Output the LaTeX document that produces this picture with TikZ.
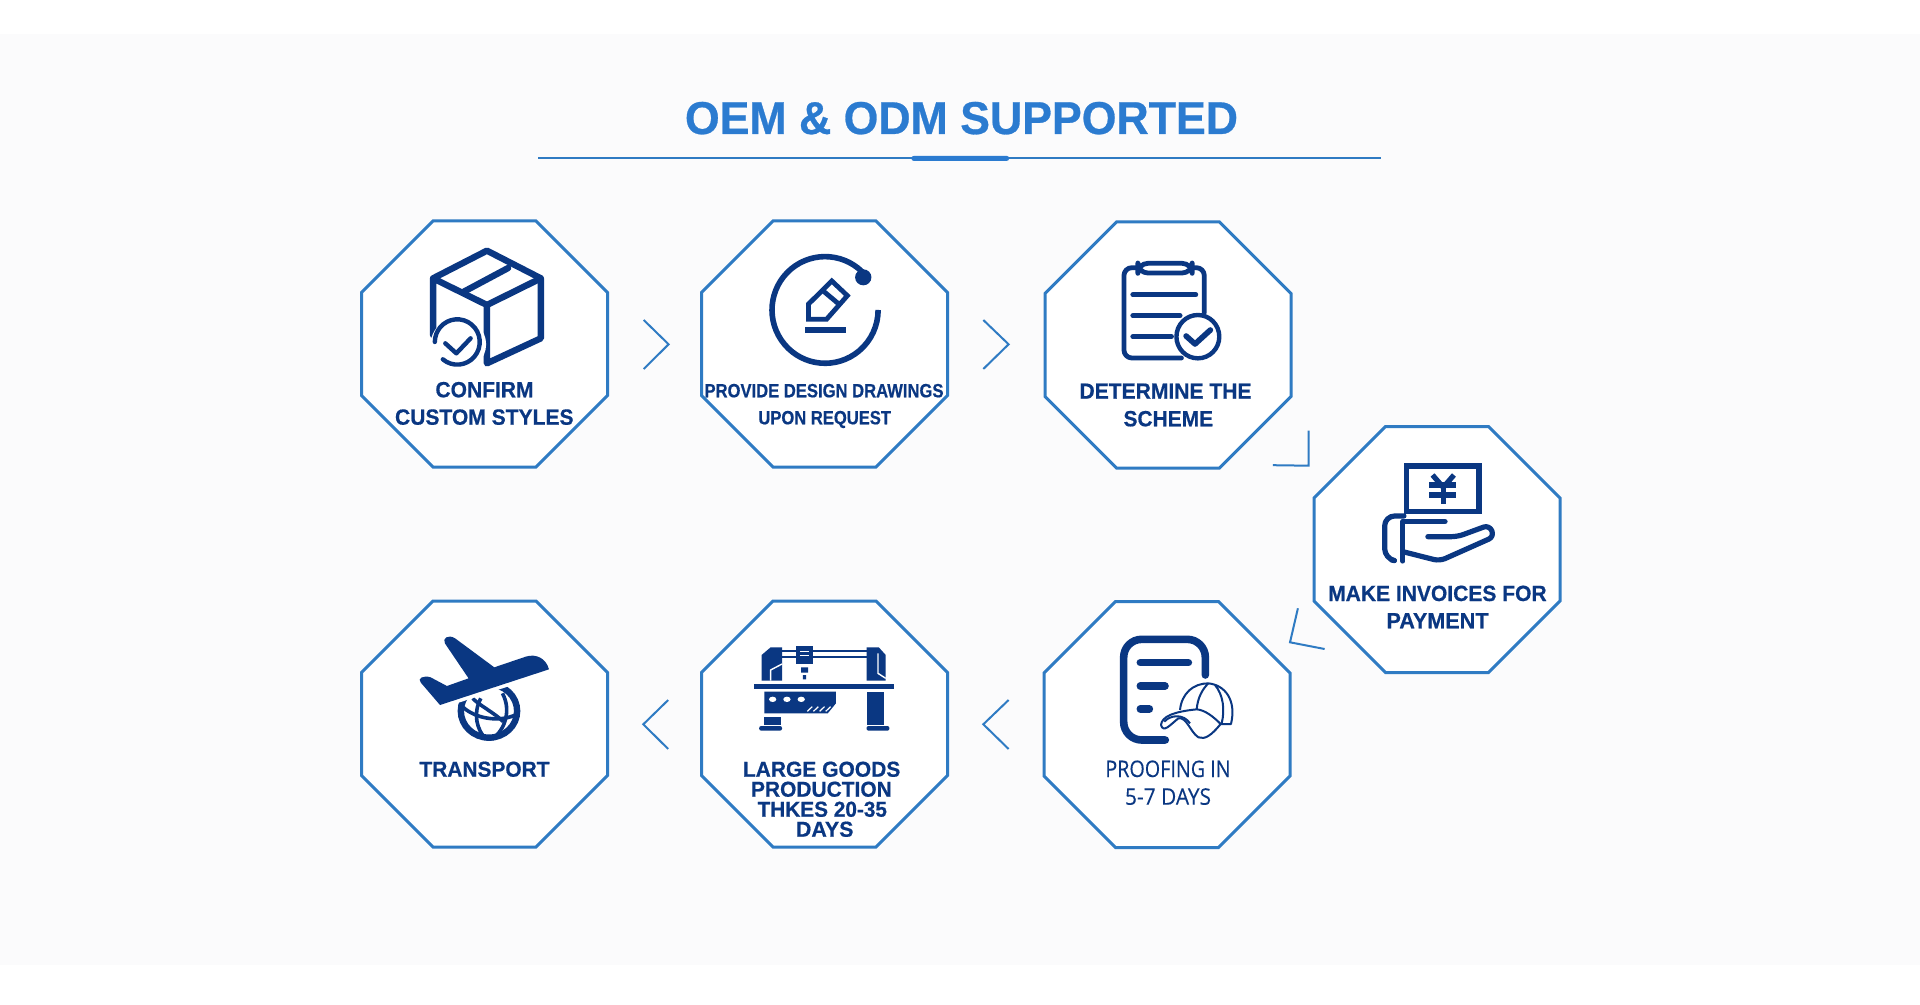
\documentclass[tikz,border=0pt]{standalone}
\usepackage{fontspec}
\usepackage{graphicx}
\setmainfont{Liberation Sans}[BoldFeatures={FakeBold=0.6}]
\newfontfamily\opensans{Open Sans}[FakeBold=0.25]
\definecolor{pagebg}{HTML}{FBFBFC}
\definecolor{edgeblue}{HTML}{2F7BC3}
\definecolor{titleblue}{HTML}{2B7BD0}
\definecolor{navy}{HTML}{0A3782}
\newdimen\pxunit \pxunit=.5pt
\tikzset{
  octa/.style={draw=edgeblue,fill=white,line width=1.5pt,line join=miter},
  chev/.style={draw=edgeblue,line width=1pt},
  ink/.style={draw=navy,line width=#1,line cap=round,line join=round},
  ink/.default=2.4pt,
  txt/.style={anchor=base,inner sep=0pt,outer sep=0pt,text=navy},
}
\newcommand\octagon[2]{%
  \path[octa] (#1-51.5,#2-123) -- (#1+51.5,#2-123) -- (#1+123,#2-51.5) -- (#1+123,#2+51.5)
   -- (#1+51.5,#2+123) -- (#1-51.5,#2+123) -- (#1-123,#2+51.5) -- (#1-123,#2-51.5) -- cycle;}
\newcommand\lbl[6]{\node[txt] (#1) at (#2,#3) {\resizebox{#4\pxunit}{\height}{\fontsize{#5}{#5}\selectfont\bfseries #6}};}
\newcommand\lblr[6]{\node[txt] (#1) at (#2,#3) {\resizebox{#4\pxunit}{\height}{\fontsize{#5}{#5}\selectfont\opensans #6}};}
\newcommand\planeoutline{(512,238) .. controls (505,205) and (480,190) .. (455,200) -- (378,232) -- (282,145) .. controls (265,132) and (250,145) .. (257,160) -- (315,265) -- (262,288) -- (222,262) .. controls (205,255) and (188,265) .. (198,278) -- (245,345) -- cycle}
\begin{document}
\begin{tikzpicture}[x=.5pt,y=-.5pt]
\useasboundingbox (0,0) rectangle (1920,1005);
\fill[white] (0,0) rectangle (1920,1005);
\fill[pagebg] (0,34) rectangle (1920,965);

% title
\node[inner sep=0pt,anchor=base,text=titleblue] (title) at (961.5,134)
  {\resizebox{553\pxunit}{\height}{\fontsize{23}{24}\selectfont\bfseries OEM \& ODM SUPPORTED}};
\draw[edgeblue,line width=.85pt] (538,158.3) -- (1381,158.3);
\fill[titleblue,rounded corners=1pt] (911.5,156) rectangle (1009,160.8);

% octagons
\octagon{484.5}{344}
\octagon{824.5}{344}
\octagon{1168}{345}
\octagon{1437}{549.5}
\octagon{1167}{724.5}
\octagon{824.5}{724}
\octagon{484.5}{724}

% chevrons
\draw[chev] (643.7,320) -- (668.6,344.3) -- (643.7,369);
\draw[chev] (983.3,320) -- (1008.6,344.3) -- (983.3,369);
\draw[chev] (1308.6,430.7) -- (1308.6,465.7) -- (1272.9,465.2);
\draw[chev] (1297.9,608.3) -- (1290,642.3) -- (1324.6,649);
\draw[chev] (1008.6,700) -- (983.3,724.3) -- (1008.6,749);
\draw[chev] (668.2,700) -- (643.3,724.3) -- (668.2,749);

% labels
\lbl{a1}{484.5}{397.3}{98}{11}{CONFIRM}
\lbl{a2}{484.3}{424.7}{178.5}{11}{CUSTOM STYLES}
\lbl{b1}{824}{397.3}{239}{9.6}{PROVIDE DESIGN DRAWINGS}
\lbl{b2}{824.7}{424.3}{132.6}{9.6}{UPON REQUEST}
\lbl{c1}{1165.5}{398.7}{172}{11}{DETERMINE THE}
\lbl{c2}{1168.3}{426.3}{89.6}{11}{SCHEME}
\lbl{d1}{1437.4}{601}{218.5}{11}{MAKE INVOICES FOR}
\lbl{d2}{1437.5}{628.3}{102}{11}{PAYMENT}
\lblr{e1}{1168}{777}{125.3}{11.4}{PROOFING IN}
\lblr{e2}{1168}{804.7}{86}{11.4}{5-7 DAYS}
\lbl{f1}{821.6}{776.7}{157.5}{10.8}{LARGE GOODS}
\lbl{f2}{821.4}{796.7}{140.8}{10.8}{PRODUCTION}
\lbl{f3}{822.3}{816.7}{129.4}{10.8}{THKES 20-35}
\lbl{f4}{824.7}{836.7}{57.5}{10.8}{DAYS}
\lbl{g1}{484.5}{776.7}{130}{10.8}{TRANSPORT}

% ---- icon 1: box
\begin{scope}[shift={(340,200)},xscale=.40816,yscale=.33333]
  \draw[ink=3.2pt] (228,405) -- (228,235) -- (360,152) -- (492,235) -- (492,415) -- (360,490) -- (360,315) -- (228,235);
  \draw[ink=3.2pt] (360,315) -- (492,235);
  \draw[ink=3.2pt] (302,276) -- (412,204);
  \fill[white] (290,433) ellipse [x radius=68,y radius=80];
  \draw[ink=2.2pt] (252,478) arc [start angle=130,end angle=-180,x radius=55,y radius=68];
  \draw[ink=2.2pt] (258,430) -- (285,460) -- (320,415);
\end{scope}

% ---- icon 2: pencil in ring
\begin{scope}[shift={(340,200)},xscale=.40816,yscale=.33333]
  \draw[ink=2.8pt,line cap=butt] (1288,227) arc [start angle=-40,end angle=-360,x radius=130,y radius=160];
  \fill[navy] (1282,232) ellipse [x radius=20,y radius=24];
  \draw[ink=2.4pt,line join=miter] (1148,358) -- (1148,312) -- (1205,243) -- (1243,287) -- (1192,358) -- cycle;
  \draw[ink=2.4pt,line cap=butt] (1183,272) -- (1222,312);
  \fill[navy] (1140,382) rectangle (1240,400);
\end{scope}

% ---- icon 3: clipboard
\begin{scope}[shift={(1020,200)},xscale=.35714,yscale=.33333]
  \draw[ink=2.4pt,rounded corners=4pt] (452,474) -- (291,474) -- (291,203) -- (516,203) -- (516,338);
  \draw[ink=2.4pt,fill=white,rounded corners=5pt] (330,190) rectangle (482,219);
  \draw[ink=2.5pt] (316,284) -- (492,284);
  \draw[ink=2.5pt] (316,347) -- (448,347);
  \draw[ink=2.5pt] (316,410) -- (424,410);
  \draw[ink=2.2pt,fill=white] (498,410) ellipse [x radius=60,y radius=65];
  \draw[ink=2.8pt] (465,408) -- (490,432) -- (533,390);
\end{scope}

% ---- icon 4: bill and hand
\begin{scope}[shift={(1020,200)},xscale=.35714,yscale=.33333]
  \draw[ink=2.6pt,line join=miter] (1082,798) rectangle (1285,935);
  \draw[ink=2.6pt,line cap=butt] (1155,825) -- (1185,862) -- (1215,825);
  \draw[ink=2.6pt,line cap=butt] (1185,862) -- (1185,912);
  \draw[ink=2.6pt,line cap=butt] (1146,855) -- (1222,855);
  \draw[ink=2.6pt,line cap=butt] (1146,885) -- (1222,885);
  \draw[ink=2.6pt,rounded corners=5pt] (1040,1080) -- (1021,1076) -- (1021,948) -- (1075,948);
  \draw[ink=2.6pt] (1072,965) -- (1190,965);
  \draw[ink=2.6pt] (1072,965) -- (1072,1083);
  \draw[ink=2.6pt,rounded corners=3pt] (1072,1055) -- (1175,1083) -- (1328,1010) -- (1314,975) -- (1225,1010) -- (1142,1010);
\end{scope}

% ---- icon 5: document and cap
\begin{scope}[shift={(1030,600)},scale=.33333]
  \draw[ink=3.8pt,rounded corners=9pt] (526,225) -- (526,118) -- (281,118) -- (281,420) -- (406,420);
  \draw[ink=3.8pt] (331,188) -- (475,188);
  \draw[ink=3.8pt] (331,258) -- (405,258);
  \draw[ink=3.8pt] (331,327) -- (358,327);
  \begin{scope}[line width=1pt,draw=navy,line join=round]
    \draw (450,330) .. controls (455,280) and (490,250) .. (535,250) .. controls (585,255) and (620,300) .. (603,372) -- (572,372);
    \draw (572,372) .. controls (545,405) and (525,420) .. (505,412) .. controls (480,395) and (470,350) .. (445,355) .. controls (420,375) and (400,400) .. (393,375) .. controls (395,350) and (430,335) .. (500,328) .. controls (525,330) and (550,350) .. (572,372);
    \draw (500,328) .. controls (503,295) and (515,270) .. (535,250);
    \draw (555,255) .. controls (580,285) and (585,330) .. (575,370);
    \draw (403,365) .. controls (420,345) and (460,340) .. (480,370);
  \end{scope}
\end{scope}

% ---- icon 6: machine
\begin{scope}[shift={(340,590)},xscale=.40816,yscale=.33333]
  \fill[navy] (1015,283) rectangle (1357,296);
  \fill[navy] (1292,305) rectangle (1332,405);
  \fill[navy,rounded corners=1pt] (1290,408) rectangle (1346,422);
  \fill[navy] (1040,305) -- (1215,305) -- (1215,340) -- (1195,370) -- (1040,370) -- cycle;
  \fill[white] (1060,328) ellipse [x radius=9,y radius=8] (1095,328) ellipse [x radius=9,y radius=8] (1130,328) ellipse [x radius=9,y radius=8];
  \foreach \h in {1145,1160,1175,1190} \draw[white,line width=.6pt] (\h,364) -- (\h+12,350);
  \fill[navy] (1040,380) rectangle (1080,405);
  \fill[navy,rounded corners=1pt] (1027,408) rectangle (1083,422);
  \fill[navy] (1033,272) -- (1033,195) -- (1055,172) -- (1083,172) -- (1083,272) -- cycle;
  \draw[white,line width=.7pt] (1083,222) -- (1055,240) -- (1055,272);
  \fill[navy] (1290,172) -- (1320,172) -- (1337,195) -- (1337,272) -- (1290,272) -- cycle;
  \draw[white,line width=.7pt] (1318,190) -- (1318,250) -- (1337,265);
  \draw[navy,line width=1pt] (1083,182) -- (1118,182) (1158,182) -- (1290,182) (1083,200) -- (1118,200) (1158,200) -- (1290,200);
  \fill[navy] (1118,168) rectangle (1158,222);
  \draw[white,line width=.7pt] (1128,185) -- (1148,185) (1128,197) -- (1148,197);
  \fill[navy] (1130,232) rectangle (1147,248) (1134,255) rectangle (1142,268);
\end{scope}

% ---- icon 7: plane and globe
\begin{scope}[shift={(340,590)},xscale=.40816,yscale=.33333]
  \draw[navy,line width=3.2pt] (365,363) ellipse [x radius=69,y radius=80];
  \draw[navy,line width=1.8pt] (345,325) .. controls (325,370) and (335,420) .. (358,448);
  \draw[navy,line width=1.8pt] (398,310) .. controls (420,360) and (405,420) .. (372,448);
  \draw[navy,line width=1.8pt] (300,350) .. controls (330,385) and (390,400) .. (435,372);
  \draw[navy,line width=1.8pt] (325,325) .. controls (340,345) and (380,370) .. (400,395);
  \draw[white,line width=3.6pt,line join=round] \planeoutline;
  \fill[navy] \planeoutline;
\end{scope}
\end{tikzpicture}
\end{document}
